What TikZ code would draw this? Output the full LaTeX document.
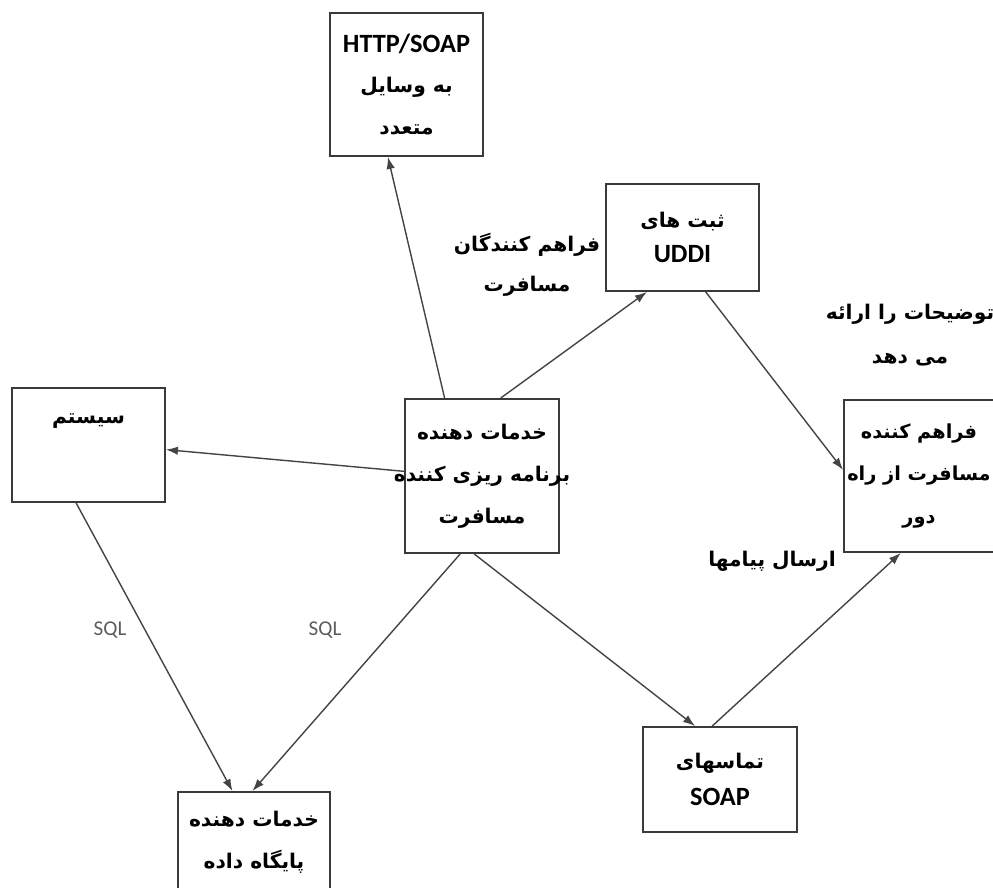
\documentclass[tikz,border=0pt]{standalone}
\usepackage{fontspec}
\setmainfont{Carlito}
\newfontfamily\arabicfont[Script=Arabic]{DejaVu Sans}
\TeXXeTstate=1
\usetikzlibrary{arrows.meta,calc}
\definecolor{boxD}{HTML}{3A3A3A}
\definecolor{arrC}{HTML}{444444}
\definecolor{labC}{HTML}{5C5C5C}
\tikzset{
  box/.style={draw=boxD, line width=1.1pt, align=center, inner sep=2pt,
              font=\bfseries\fontsize{15}{24}\selectfont},
  arr/.style={-{Latex[length=2.4mm,width=1.7mm]}, draw=arrC, line width=0.8pt},
  lab/.style={font=\bfseries\fontsize{15}{23}\selectfont, align=center, inner sep=1pt},
  sql/.style={font=\fontsize{12}{14}\selectfont, text=labC, inner sep=1pt},
}
\newcommand\fa[2][11.5]{{\arabicfont\fontsize{#1}{24}\selectfont\beginR #2\endR}}

\begin{document}
\begin{tikzpicture}[x=0.02cm, y=-0.02cm]
\useasboundingbox (0,0) rectangle (993,888);
\node[box, minimum width=3.06cm, minimum height=2.86cm] (http) at (406.5,84.5)
  {HTTP/SOAP\\[-1pt]\fa{به وسایل}\\\fa{متعدد}};
\node[box, minimum width=3.06cm, minimum height=2.14cm, font=\bfseries\fontsize{15}{20}\selectfont] (uddi) at (682.5,237.5)
  {\fa{ثبت های}\\UDDI};
\node[box, minimum width=3.06cm, minimum height=2.28cm] (sys) at (88.5,445)
  {\raisebox{12pt}[0pt][0pt]{\fa{سیستم}}};
\node[box, minimum width=3.08cm, minimum height=3.08cm] (ctr) at (482,476)
  {\fa{خدمات دهنده}\\\makebox[0pt]{\fa{برنامه ریزی کننده}}\\\fa{مسافرت}};
\node[box, minimum width=3.0cm, minimum height=3.04cm] (rem) at (919,476)
  {\fa[11]{فراهم کننده}\\\makebox[0pt]{\fa[11]{مسافرت از راه}}\\\fa[11]{دور}};
\node[box, minimum width=3.08cm, minimum height=2.1cm, font=\bfseries\fontsize{15}{21}\selectfont] (soap) at (720,779.5)
  {\fa{تماسهای}\\SOAP};
\node[box, minimum width=3.04cm, minimum height=2cm] (db) at (254,842)
  {\fa{خدمات دهنده}\\\fa{پایگاه داده}};
% labels
\node[lab] (prov) at (527,265) {\fa{فراهم کنندگان}\\\fa{مسافرت}};
\node[lab, font=\bfseries\fontsize{15}{25}\selectfont] (desc) at (910,335) {\fa{توضیحات را ارائه}\\\fa{می دهد}};
\node[lab] (send) at (772,561) {\fa{ارسال پیامها}};
\node[sql] (sqlA) at (110,630) {SQL};
\node[sql] (sqlB) at (325,630) {SQL};
% connectors
\draw[arr] ($(ctr.north west)!.26!(ctr.north east)$) -- ($(http.south west)!.38!(http.south east)$);
\draw[arr] ($(ctr.north west)!.62!(ctr.north east)$) -- ($(uddi.south west)!.27!(uddi.south east)$);
\draw[arr] ($(ctr.north west)!.47!(ctr.south west)$) -- ($(sys.north east)!.54!(sys.south east)$);
\draw[arr] ($(uddi.south west)!.65!(uddi.south east)$) -- ($(rem.north west)!.46!(rem.south west)$);
\draw[arr] ($(sys.south west)!.42!(sys.south east)$) -- ($(db.north west)!.36!(db.north east)$);
\draw[arr] ($(ctr.south west)!.36!(ctr.south east)$) -- ($(db.north west)!.49!(db.north east)$);
\draw[arr] ($(ctr.south west)!.45!(ctr.south east)$) -- ($(soap.north west)!.34!(soap.north east)$);
\draw[arr] ($(soap.north west)!.45!(soap.north east)$) -- ($(rem.south west)!.38!(rem.south east)$);
\end{tikzpicture}
\end{document}
